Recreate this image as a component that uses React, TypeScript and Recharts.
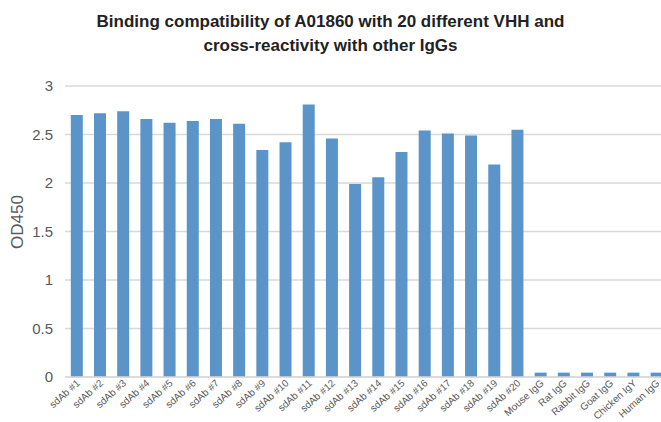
import { Bar, BarChart, CartesianGrid, XAxis, YAxis } from "recharts";

const categories = [
  "sdAb #1", "sdAb #2", "sdAb #3", "sdAb #4", "sdAb #5", "sdAb #6", "sdAb #7",
  "sdAb #8", "sdAb #9", "sdAb #10", "sdAb #11", "sdAb #12", "sdAb #13", "sdAb #14",
  "sdAb #15", "sdAb #16", "sdAb #17", "sdAb #18", "sdAb #19", "sdAb #20",
  "Mouse IgG", "Rat IgG", "Rabbit IgG", "Goat IgG", "Chicken IgY", "Human IgG",
];

const od450 = [
  2.7, 2.72, 2.74, 2.66, 2.62, 2.64, 2.66, 2.61, 2.34, 2.42, 2.81, 2.46, 1.99,
  2.06, 2.32, 2.54, 2.51, 2.49, 2.19, 2.55, 0.045, 0.045, 0.045, 0.045, 0.045,
  0.045,
];

const yTicks = [0, 0.5, 1, 1.5, 2, 2.5, 3];

const data = categories.map((name, i) => ({ name, value: od450[i] }));

const font = "'Liberation Sans', Arial, sans-serif";

// x labels slanted like the spreadsheet original
function RotatedTick({ x, y, payload }: any) {
  const ax = x + 4;
  const ay = y - 1;
  return (
    <text
      x={ax}
      y={ay}
      transform={`rotate(-42, ${ax}, ${ay})`}
      textAnchor="end"
      fontSize={10}
      fill="#595959"
      fontFamily={font}
    >
      {payload.value}
    </text>
  );
}

export default function App() {
  return (
    <div
      style={{
        position: "absolute",
        left: 0,
        top: 0,
        width: 661,
        height: 422,
        overflow: "hidden",
        background: "#fff",
        fontFamily: font,
      }}
    >
      <div
        style={{
          position: "absolute",
          top: 10,
          left: 0,
          width: 661,
          textAlign: "center",
          fontWeight: "bold",
          fontSize: 17,
          lineHeight: "24px",
          color: "#222",
        }}
      >
        Binding compatibility of A01860 with 20 different VHH and
        <br />
        cross-reactivity with other IgGs
      </div>
      <div
        style={{
          position: "absolute",
          left: 18,
          top: 222,
          transform: "translate(-50%, -50%) rotate(-90deg)",
          fontSize: 17,
          color: "#595959",
          whiteSpace: "nowrap",
        }}
      >
        OD450
      </div>
      <BarChart
        width={668}
        height={422}
        data={data}
        margin={{ top: 86, right: 0, bottom: 0, left: 0 }}
        barCategoryGap="25%"
      >
        <CartesianGrid vertical={false} stroke="#d9d9d9" strokeWidth={1.5} />
        <XAxis
          dataKey="name"
          interval={0}
          tickLine={false}
          axisLine={{ stroke: "#d9d9d9", strokeWidth: 1.5 }}
          tick={<RotatedTick />}
          height={45}
        />
        <YAxis
          domain={[0, 3]}
          ticks={yTicks}
          width={65}
          tickLine={false}
          axisLine={false}
          tickMargin={6}
          tick={{ fontSize: 15, fill: "#595959", fontFamily: font }}
        />
        <Bar dataKey="value" fill="#5b94c9" isAnimationActive={false} />
      </BarChart>
    </div>
  );
}
